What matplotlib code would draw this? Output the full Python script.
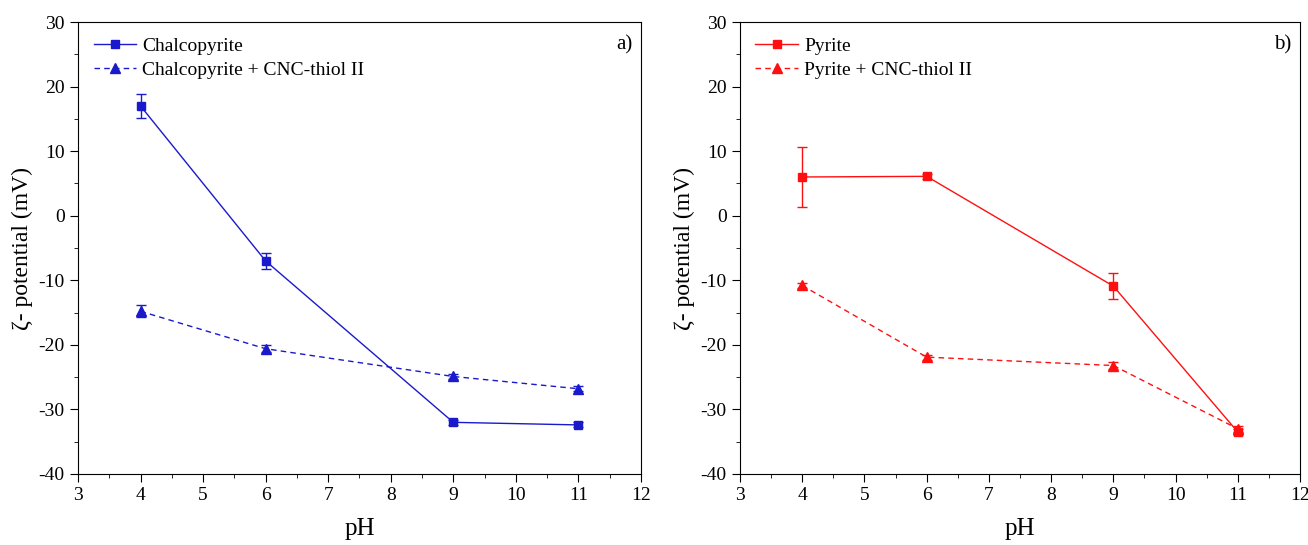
import matplotlib
matplotlib.use('Agg')
import matplotlib.pyplot as plt
from matplotlib.ticker import MultipleLocator

plt.rcParams['font.family'] = ['Liberation Serif', 'DejaVu Serif']

ph = [4, 6, 9, 11]

# panel a
chalco = [17.0, -7.0, -32.0, -32.4]
chalco_err = [1.9, 1.2, 0.4, 0.4]
chalco_cnc = [-14.8, -20.6, -24.9, -26.8]
chalco_cnc_err = [0.9, 0.5, 0.4, 0.4]

# panel b
pyrite = [6.0, 6.1, -10.9, -33.5]
pyrite_err = [4.6, 0.4, 2.0, 0.5]
pyrite_cnc = [-10.8, -21.9, -23.2, -33.0]
pyrite_cnc_err = [0.4, 0.4, 0.5, 0.5]

fig = plt.figure(figsize=(13.08, 5.45), dpi=100)
ax1 = fig.add_axes([0.0596, 0.1303, 0.4304, 0.8293])
ax2 = fig.add_axes([0.5657, 0.1303, 0.4282, 0.8293])

def draw(ax, y1, e1, y2, e2, color, lab1, lab2, tag):
    # error bars only, lines + markers drawn separately so legend is clean
    ax.errorbar(ph, y1, yerr=e1, fmt='none', ecolor=color, capsize=3.5, elinewidth=1)
    ax.errorbar(ph, y2, yerr=e2, fmt='none', ecolor=color, capsize=3.5, elinewidth=1)
    ax.plot(ph, y1, color=color, marker='s', ms=6, lw=1, label=lab1)
    ax.plot(ph, y2, color=color, marker='^', ms=7, lw=1, ls='--', dashes=(4, 3), label=lab2)
    ax.set_xlim(3, 12)
    ax.set_ylim(-40, 30)
    ax.xaxis.set_major_locator(MultipleLocator(1))
    ax.xaxis.set_minor_locator(MultipleLocator(0.5))
    ax.yaxis.set_major_locator(MultipleLocator(10))
    ax.yaxis.set_minor_locator(MultipleLocator(5))
    ax.tick_params(which='both', direction='out', top=False, right=False)
    ax.tick_params(which='major', length=6, labelsize=14)
    ax.tick_params(which='minor', length=3)
    ax.set_yticks(range(-40, 31, 10))
    ax.set_yticklabels([str(v) for v in range(-40, 31, 10)])
    ax.set_xlabel('pH', fontsize=18, labelpad=10)
    ax.set_ylabel('ζ- potential (mV)', fontsize=17, labelpad=4)
    ax.text(0.985, 0.97, tag, transform=ax.transAxes, ha='right', va='top', fontsize=15)
    ax.legend(loc='upper left', frameon=False, fontsize=14, handlelength=2.2,
              handletextpad=0.3, borderaxespad=0.4, labelspacing=0.3,
              borderpad=0.4)

draw(ax1, chalco, chalco_err, chalco_cnc, chalco_cnc_err, '#1a1acc',
     'Chalcopyrite', 'Chalcopyrite + CNC-thiol II', 'a)')
draw(ax2, pyrite, pyrite_err, pyrite_cnc, pyrite_cnc_err, '#ff1010',
     'Pyrite', 'Pyrite + CNC-thiol II', 'b)')

fig.savefig('out.png', dpi=100)
